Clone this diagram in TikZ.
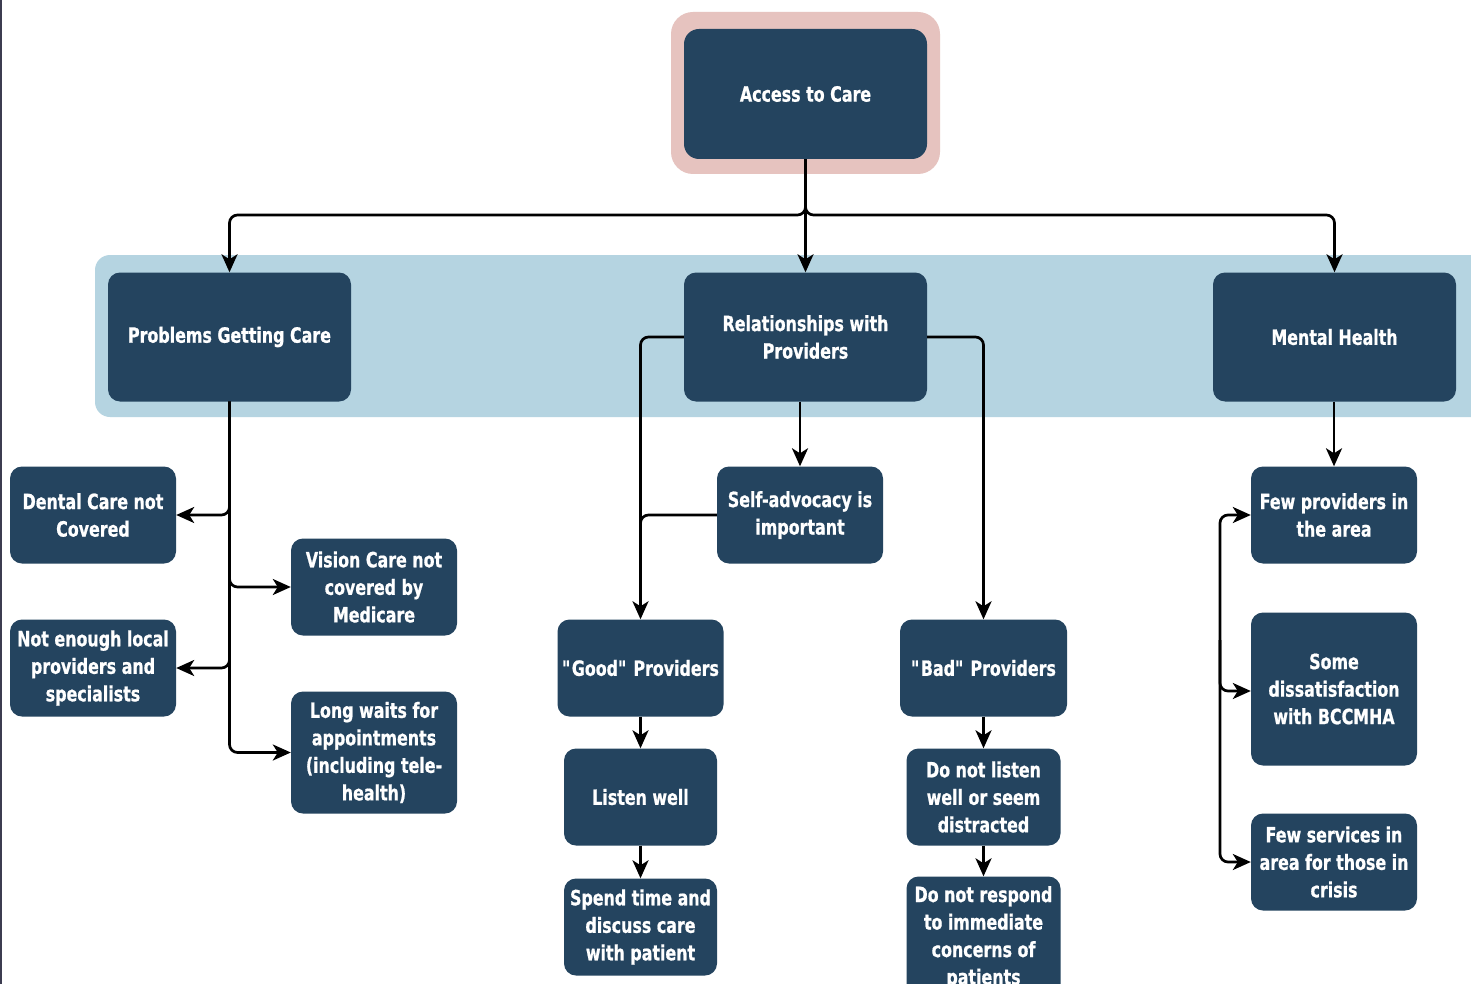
\documentclass[tikz,border=0pt]{standalone}
\usepackage{fontspec}
\setmainfont{DejaVu Sans Condensed}[FakeStretch=0.84, BoldFeatures={FakeBold=0.8}]
\usetikzlibrary{arrows.meta}
\definecolor{boxc}{HTML}{24445F}
\definecolor{pinkc}{HTML}{E6C3BF}
\definecolor{bandc}{HTML}{B5D4E1}
\definecolor{edgec}{HTML}{3C3C50}
\begin{document}
\begin{tikzpicture}[x=1pt,y=-1pt,
  box/.style={draw=none, fill=boxc, rounded corners=12pt, text=white,
    font=\bfseries\fontsize{21}{27.5}\selectfont, align=center, inner sep=0pt,
    minimum width=166pt, minimum height=97pt},
  conn/.style={line width=2.7pt, rounded corners=8pt, -{Stealth[length=18pt,width=16pt,inset=5pt]}},
  both/.style={line width=2.7pt, rounded corners=8pt, {Stealth[length=18pt,width=16pt,inset=5pt]}-{Stealth[length=18pt,width=16pt,inset=5pt]}},
  plain/.style={line width=2.7pt, rounded corners=8pt}]
\useasboundingbox (0,0) rectangle (1471,984);
\clip (0,0) rectangle (1471,984);
\fill[white] (0,0) rectangle (1471,984);
% background shapes
\fill[bandc, rounded corners=15pt] (95,255) rectangle (1500,417);
\fill[pinkc, rounded corners=22pt] (671,12) rectangle (940,174);
\draw[edgec, line width=2pt] (1,0) -- (1,984);
% nodes
\node[box, minimum width=243pt, minimum height=130pt, rounded corners=15pt] (top) at (805.5,94) {Access to Care};
\node[box, minimum width=243pt, minimum height=129pt] (pgc) at (229.5,337) {Problems Getting Care};
\node[box, minimum width=243pt, minimum height=129pt] (rel) at (805.5,337) {Relationships with\\Providers};
\node[box, minimum width=243pt, minimum height=129pt] (mh) at (1334.5,337) {Mental Health};
\node[box] (dental) at (93,515) {Dental Care not\\Covered};
\node[box] (vision) at (374,587) {Vision Care not\\covered by\\Medicare};
\node[box] (notenough) at (93,668) {Not enough local\\providers and\\specialists};
\node[box, minimum height=122pt] (long) at (374,752.5) {Long waits for\\appointments\\(including tele-\\health)};
\node[box] (self) at (800,515) {Self-advocacy is\\important};
\node[box] (good) at (640.5,668) {\textquotedbl Good\textquotedbl{} Providers};
\node[box, minimum width=153pt] (listen) at (640.5,797) {Listen well};
\node[box, minimum width=153pt] (spend) at (640.5,927) {Spend time and\\discuss care\\with patient};
\node[box, minimum width=167pt] (bad) at (983.5,668) {\textquotedbl Bad\textquotedbl{} Providers};
\node[box, minimum width=154pt] (dnl) at (983.5,797) {Do not listen\\well or seem\\distracted};
\node[box, minimum width=154pt, minimum height=122pt] (dnr) at (983.5,937.5) {Do not respond\\to immediate\\concerns of\\patients};
\node[box] (fewp) at (1334,515) {Few providers in\\the area};
\node[box, minimum height=153pt] (some) at (1334,689) {Some\\dissatisfaction\\with BCCMHA};
\node[box] (fews) at (1334,862) {Few services in\\area for those in\\crisis};
% connectors
\coordinate (hub) at (805.5,215);
\draw[conn] (top.south) -- (hub) -| (pgc.north);
\draw[conn] (top.south) -- (hub) -| (mh.north);
\draw[conn] (top.south) -- (rel.north);
\draw[conn] (pgc.south) |- (dental.east);
\draw[conn] (pgc.south) |- (vision.west);
\draw[conn] (pgc.south) |- (notenough.east);
\draw[conn] (pgc.south) |- (long.west);
\draw[conn] (rel.south -| self.north) -- (self.north);
\draw[conn] (rel.west) -| (good.north);
\draw[plain] (self.west) -| ([yshift=25pt]good.north);
\draw[conn] (rel.east) -| (bad.north);
\draw[conn] (good.south) -- (listen.north);
\draw[conn] (listen.south) -- (spend.north);
\draw[conn] (bad.south) -- (dnl.north);
\draw[conn] (dnl.south) -- (dnr.north);
\draw[conn] (mh.south -| fewp.north) -- (fewp.north);
\coordinate (mhtop) at (1220,515);
\coordinate (mhbot) at (1220,862);
\draw[both] (fewp.west) -- (mhtop) -- (mhbot) -- (fews.west);
\coordinate (mhmid) at (1220,640);
\draw[conn] (mhmid) |- ([yshift=-2pt]some.west);
\end{tikzpicture}
\end{document}
